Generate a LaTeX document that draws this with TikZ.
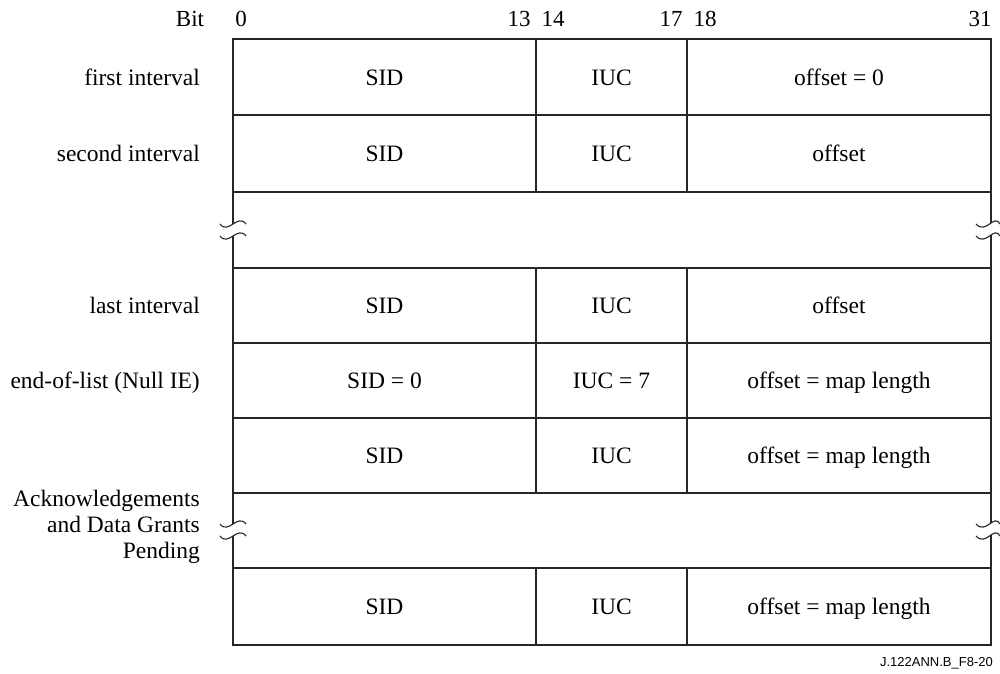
\documentclass[tikz,border=0pt]{standalone}
\usepackage{fontspec}
\setmainfont{Liberation Serif}
\newfontfamily\arialf{Liberation Sans}
\begin{document}
\begin{tikzpicture}[x=1pt,y=-1pt,
  frame/.style={line width=2pt,draw=black!85},
  cell/.style={font=\fontsize{23.5}{26}\selectfont,anchor=base,inner sep=0pt},
  rowlabel/.style={font=\fontsize{23.5}{26}\selectfont,anchor=base east,align=right,inner sep=0pt},
  bitlab/.style={font=\fontsize{23}{26}\selectfont,anchor=base,inner sep=0pt},
  brk/.style={line width=1.1pt,draw=black!85}]
\useasboundingbox (0,0) rectangle (1000,673);
\def\L{233}\def\R{991}\def\CA{536}\def\CB{687}
% horizontal lines
\foreach \yy in {39,115,192,268,343,418,493,568,645}
  \draw[frame] (\L,\yy) -- (\R,\yy);
\draw[frame] (\L,38) -- (\L,646);
\draw[frame] (\R,38) -- (\R,646);
% column dividers in data rows
\foreach \ya/\yb in {39/192,268/493,568/645}{
  \draw[frame] (\CA,\ya) -- (\CA,\yb);
  \draw[frame] (\CB,\ya) -- (\CB,\yb);}
% break marks
\foreach \xx/\dl/\dr in {\L/13/13,\R/15/9}{
  \foreach \yc in {230,530}{
    \fill[white] (\xx-\dl,\yc-6) .. controls (\xx-\dl/3,\yc+5) and (\xx+\dr/3,\yc-17) .. (\xx+\dr,\yc-6)
       -- (\xx+\dr,\yc+6) .. controls (\xx+\dr/3,\yc-5) and (\xx-\dl/3,\yc+17) .. (\xx-\dl,\yc+6) -- cycle;
    \draw[brk] (\xx-\dl,\yc-6) .. controls (\xx-\dl/3,\yc+5) and (\xx+\dr/3,\yc-17) .. (\xx+\dr,\yc-6);
    \draw[brk] (\xx-\dl,\yc+6) .. controls (\xx-\dl/3,\yc+17) and (\xx+\dr/3,\yc-5) .. (\xx+\dr,\yc+6);
  }}
% bit labels
\def\by{26}
\node[bitlab] (bit) at (190,\by) {Bit};
\node[bitlab] (b0) at (241,\by) {0};
\node[bitlab] (b13) at (519,\by) {13};
\node[bitlab] (b14) at (553,\by) {14};
\node[bitlab] (b17) at (671,\by) {17};
\node[bitlab] (b18) at (705,\by) {18};
\node[bitlab] (b31) at (980,\by) {31};
% row labels
\node[rowlabel] (r1) at (200,85) {first interval};
\node[rowlabel] (r2) at (200,161) {second interval};
\node[rowlabel] (r3) at (200,313) {last interval};
\node[rowlabel] (r4) at (200,388) {end-of-list (Null IE)};
\node[rowlabel,anchor=east] (r5) at (200,527) {Acknowledgements\\and Data Grants\\Pending};
% cells
\def\xa{384.5}\def\xb{611.5}\def\xc{839}
\node[cell] (s1) at (\xa,85) {SID};
\node[cell] (i1) at (\xb,85) {IUC};
\node[cell] (o1) at (\xc,85) {offset = 0};
\node[cell] (s2) at (\xa,161) {SID};
\node[cell] (i2) at (\xb,161) {IUC};
\node[cell] (o2) at (\xc,161) {offset};
\node[cell] (s3) at (\xa,313) {SID};
\node[cell] (i3) at (\xb,313) {IUC};
\node[cell] (o3) at (\xc,313) {offset};
\node[cell] (s4) at (\xa,388) {SID = 0};
\node[cell] (i4) at (\xb,388) {IUC = 7};
\node[cell] (o4) at (\xc,388) {offset = map length};
\node[cell] (s5) at (\xa,463) {SID};
\node[cell] (i5) at (\xb,463) {IUC};
\node[cell] (o5) at (\xc,463) {offset = map length};
\node[cell] (s6) at (\xa,614) {SID};
\node[cell] (i6) at (\xb,614) {IUC};
\node[cell] (o6) at (\xc,614) {offset = map length};
% figure id
\node[font=\arialf\fontsize{13}{15}\selectfont,anchor=base east,inner sep=0pt] (fid) at (993,666) {J.122ANN.B\_F8-20};
\end{tikzpicture}
\end{document}
